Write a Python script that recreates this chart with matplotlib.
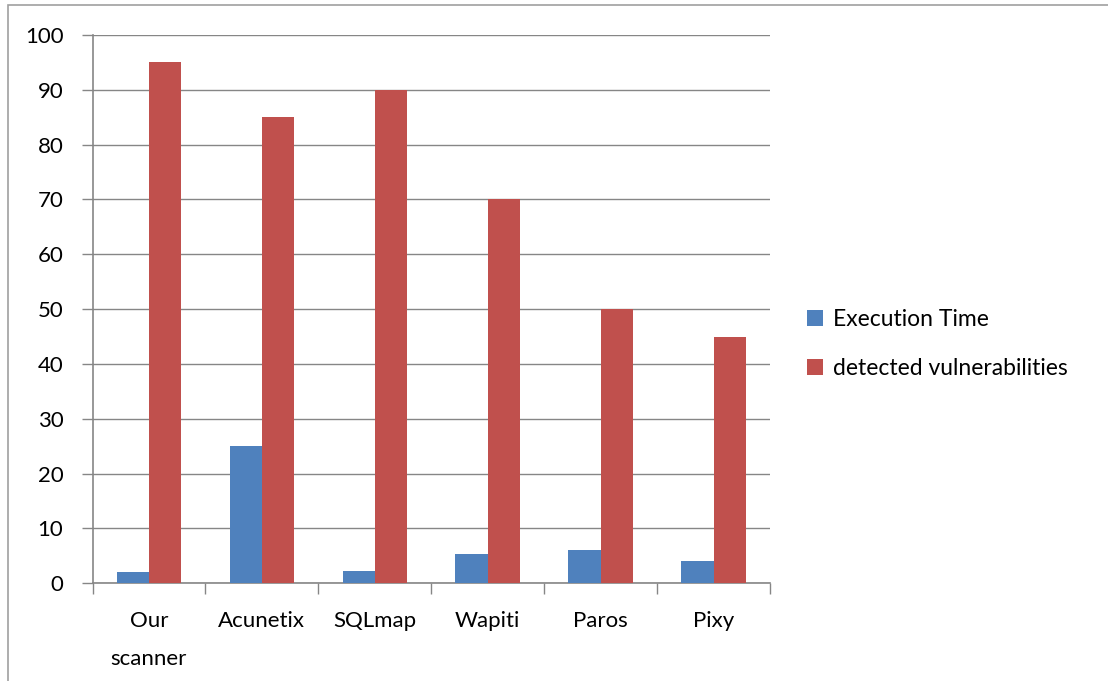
import matplotlib

matplotlib.use("Agg")
import matplotlib.pyplot as plt
import numpy as np
from matplotlib.patches import Rectangle

categories = ["Our\nscanner", "Acunetix", "SQLmap", "Wapiti", "Paros", "Pixy"]
execution_time = [2.1, 25, 2.3, 5.3, 6, 4]
detected_vulns = [95, 85, 90, 70, 50, 45]
yticks = list(range(0, 101, 10))

BLUE = "#4F81BD"
RED = "#C0504D"
GRID = "#868686"

plt.rcParams["font.family"] = ["Lato", "DejaVu Sans"]

fig = plt.figure(figsize=(11.08, 6.81), dpi=100)
ax = fig.add_axes([92.5 / 1108, 97.7 / 681, (770 - 92.5) / 1108, (583.3 - 35) / 681])

x = np.arange(len(categories))
w = 1 / 3.5
ax.bar(x - w / 2, execution_time, width=w, color=BLUE, label="Execution Time", zorder=3)
ax.bar(x + w / 2, detected_vulns, width=w, color=RED, label="detected vulnerabilities", zorder=3)

ax.set_xlim(-0.5, len(categories) - 0.5)
ax.set_ylim(0, 100)
ax.set_yticks(yticks)
ax.set_yticklabels([str(t) for t in yticks], fontsize=16)
ax.yaxis.grid(True, color=GRID, linewidth=1, zorder=0)
ax.tick_params(axis="y", length=8, color=GRID, width=1, pad=13)

# category labels centered, ticks at boundaries
ax.set_xticks(x)
ax.set_xticklabels(categories, fontsize=16, linespacing=2.15)
ax.tick_params(axis="x", length=0, pad=20)
ax.set_xticks(np.arange(len(categories) + 1) - 0.5, minor=True)
ax.tick_params(axis="x", which="minor", length=8, color=GRID, width=1)

for s in ("top", "right"):
    ax.spines[s].set_visible(False)
for s in ("left", "bottom"):
    ax.spines[s].set_color(GRID)
    ax.spines[s].set_linewidth(1.2)

leg = fig.legend(
    loc="center left", bbox_to_anchor=(786 / 1108, 1 - 344 / 681), frameon=False,
    fontsize=16.5, handlelength=0.7, handleheight=0.7, handletextpad=0.45,
    labelspacing=1.25,
)

# outer chart border
fig.patches.append(Rectangle((8 / 1108, -0.1), 1.2, 1 - 5 / 681 + 0.1,
                             transform=fig.transFigure, fill=False,
                             edgecolor="#A0A0A0", linewidth=1.2))

fig.savefig("out.png", dpi=100)
